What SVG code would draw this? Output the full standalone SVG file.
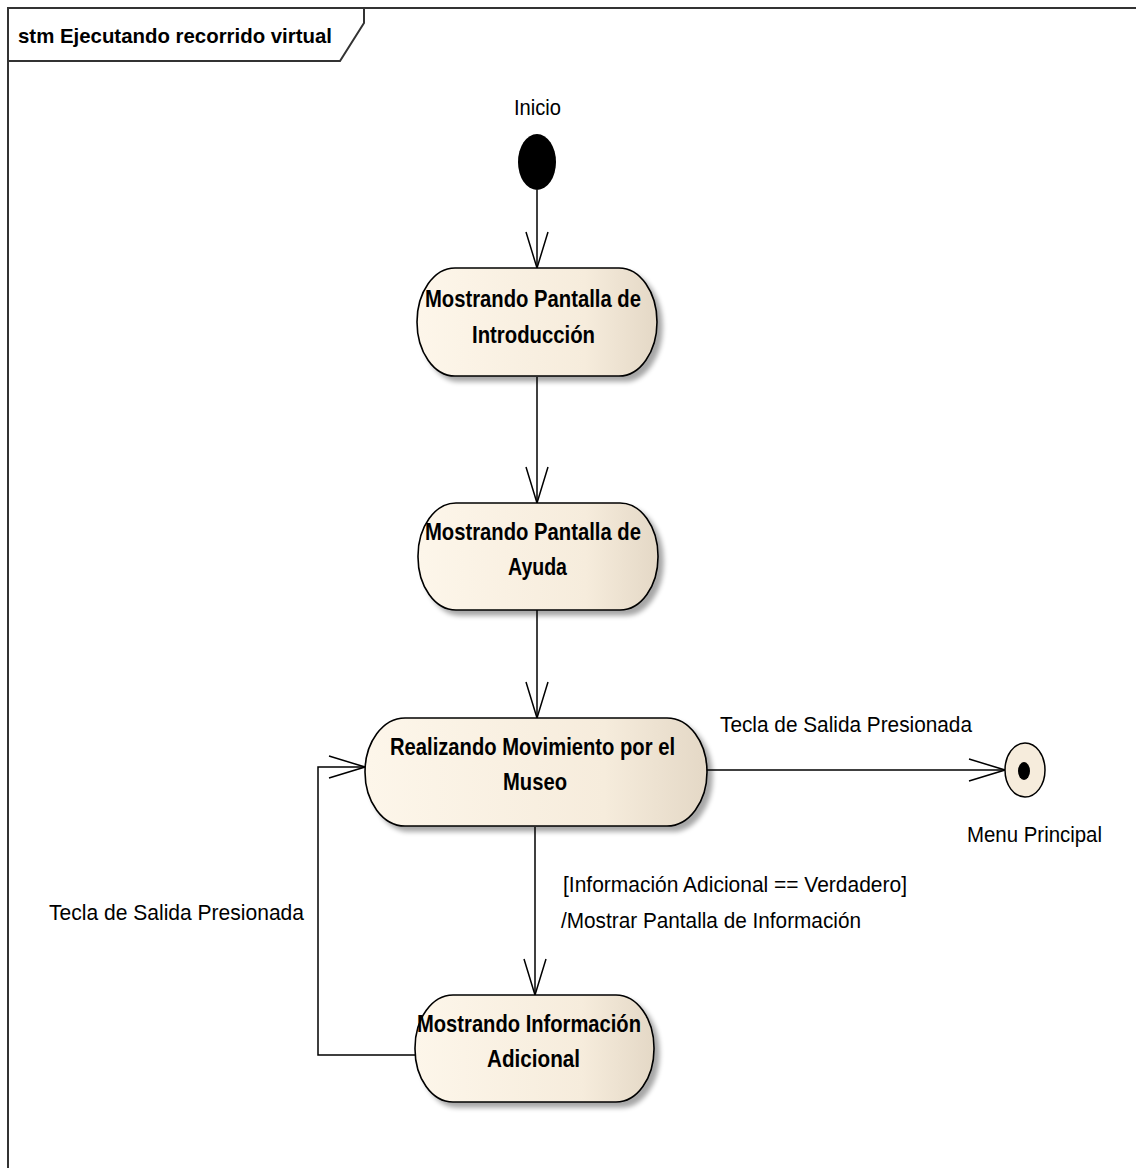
<svg xmlns="http://www.w3.org/2000/svg" width="1136" height="1168" viewBox="0 0 1136 1168">
  <defs>
    <linearGradient id="stateFill" x1="0" y1="0" x2="1" y2="0">
      <stop offset="0" stop-color="#fdf6ea"/>
      <stop offset="0.7" stop-color="#f6ecdc"/>
      <stop offset="1" stop-color="#e4d8c6"/>
    </linearGradient>
    <filter id="shadow" x="-10%" y="-10%" width="125%" height="135%">
      <feGaussianBlur in="SourceAlpha" stdDeviation="2.5"/>
      <feOffset dx="5" dy="5" result="b"/>
      <feComponentTransfer><feFuncA type="linear" slope="0.35"/></feComponentTransfer>
      <feMerge><feMergeNode/><feMergeNode in="SourceGraphic"/></feMerge>
    </filter>
    <marker id="open" viewBox="-40 -16 42 32" markerWidth="42" markerHeight="32" refX="0" refY="0" orient="auto" markerUnits="userSpaceOnUse">
      <path d="M -36 -11 L 0 0 L -36 11" fill="none" stroke="#000" stroke-width="1.5"/>
    </marker>
    <style>
      .state { fill: url(#stateFill); stroke: #000; stroke-width: 1.6; filter: url(#shadow); }
      .sname { font-family: "Liberation Sans", Arial, sans-serif; font-weight: bold; font-size: 24px; fill: #000; }
      .lbl { font-family: "Liberation Sans", Arial, sans-serif; font-size: 22px; fill: #000; }
      .title { font-family: "Liberation Sans", Arial, sans-serif; font-weight: bold; font-size: 21px; fill: #000; }
      .edge { fill: none; stroke: #000; stroke-width: 1.5; }
    </style>
  </defs>

  <rect width="1136" height="1168" fill="#fff"/>

  <!-- state machine frame with its name tab -->
  <g id="frame">
    <path d="M 8 1168 L 8 8 L 1136 8" fill="none" stroke="#333" stroke-width="2"/>
    <path d="M 8 61 L 340 61 L 364 23 L 364 8" fill="none" stroke="#333" stroke-width="2"/>
    <text class="title" x="18" y="43" textLength="314" lengthAdjust="spacingAndGlyphs">stm Ejecutando recorrido virtual</text>
  </g>

  <!-- transitions -->
  <g id="connectors">
    <line class="edge" x1="537" y1="190" x2="537" y2="268" marker-end="url(#open)"/>
    <line class="edge" x1="537" y1="377" x2="537" y2="503" marker-end="url(#open)"/>
    <line class="edge" x1="537" y1="610" x2="537" y2="718" marker-end="url(#open)"/>
    <line class="edge" x1="707" y1="770" x2="1005" y2="770" marker-end="url(#open)"/>
    <line class="edge" x1="535" y1="827" x2="535" y2="995" marker-end="url(#open)"/>
    <polyline class="edge" points="415,1055 318,1055 318,767 365,767" marker-end="url(#open)"/>
    <text class="lbl" x="720" y="732" textLength="252" lengthAdjust="spacingAndGlyphs">Tecla de Salida Presionada</text>
    <text class="lbl" x="563" y="892" textLength="344" lengthAdjust="spacingAndGlyphs">[Información Adicional == Verdadero]</text>
    <text class="lbl" x="561" y="928" textLength="300" lengthAdjust="spacingAndGlyphs">/Mostrar Pantalla de Información</text>
    <text class="lbl" x="49" y="920" textLength="255" lengthAdjust="spacingAndGlyphs">Tecla de Salida Presionada</text>
  </g>

  <g id="inicio">
    <ellipse cx="537" cy="162" rx="19" ry="28" fill="#000"/>
    <text class="lbl" x="514" y="115" textLength="47" lengthAdjust="spacingAndGlyphs">Inicio</text>
  </g>

  <g id="introduccion">
    <rect class="state" x="417" y="268" width="240" height="108" rx="38" ry="54"/>
    <text class="sname" x="425" y="307" textLength="216" lengthAdjust="spacingAndGlyphs">Mostrando Pantalla de</text>
    <text class="sname" x="472" y="343" textLength="123" lengthAdjust="spacingAndGlyphs">Introducción</text>
  </g>

  <g id="ayuda">
    <rect class="state" x="418" y="503" width="240" height="107" rx="38" ry="53"/>
    <text class="sname" x="425" y="540" textLength="216" lengthAdjust="spacingAndGlyphs">Mostrando Pantalla de</text>
    <text class="sname" x="508" y="575" textLength="59" lengthAdjust="spacingAndGlyphs">Ayuda</text>
  </g>

  <g id="movimiento">
    <rect class="state" x="365" y="718" width="342" height="108" rx="40" ry="54"/>
    <text class="sname" x="390" y="755" textLength="285" lengthAdjust="spacingAndGlyphs">Realizando Movimiento por el</text>
    <text class="sname" x="503" y="790" textLength="64" lengthAdjust="spacingAndGlyphs">Museo</text>
  </g>

  <g id="informacion">
    <rect class="state" x="415" y="995" width="239" height="107" rx="38" ry="53"/>
    <text class="sname" x="417" y="1032" textLength="224" lengthAdjust="spacingAndGlyphs">Mostrando Información</text>
    <text class="sname" x="487" y="1067" textLength="93" lengthAdjust="spacingAndGlyphs">Adicional</text>
  </g>

  <g id="menu-principal">
    <ellipse cx="1025" cy="770" rx="20" ry="27" fill="#f6ecdc" stroke="#000" stroke-width="1.5"/>
    <ellipse cx="1024" cy="771" rx="6" ry="9" fill="#000"/>
    <text class="lbl" x="967" y="842" textLength="135" lengthAdjust="spacingAndGlyphs">Menu Principal</text>
  </g>
</svg>
